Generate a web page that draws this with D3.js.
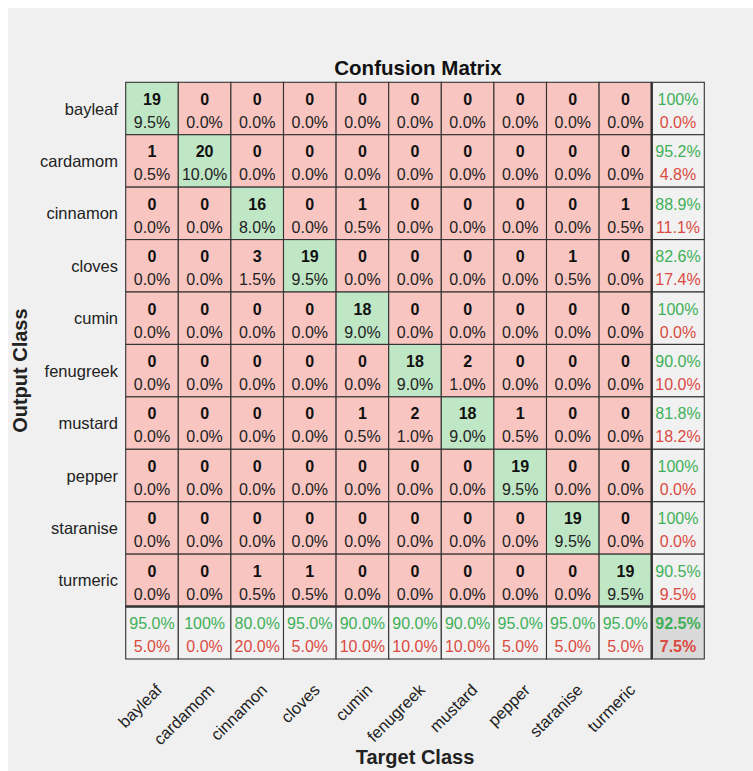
<!DOCTYPE html>
<html>
<head>
<meta charset="utf-8">
<script src="https://cdn.jsdelivr.net/npm/d3@7"></script>
<style>
  html, body { margin: 0; padding: 0; background: #ffffff; }
  svg { display: block; }
  text { font-family: "Liberation Sans", Arial, Helvetica, sans-serif; }
</style>
</head>
<body>
<script>
// Class names (output = rows, target = columns)
const classes = ["bayleaf", "cardamom", "cinnamon", "cloves", "cumin",
                 "fenugreek", "mustard", "pepper", "staranise", "turmeric"];

// Confusion counts: one array per output class, columns follow target class order
const bayleafRow   = [19, 0, 0, 0, 0, 0, 0, 0, 0, 0];
const cardamomRow  = [1, 20, 0, 0, 0, 0, 0, 0, 0, 0];
const cinnamonRow  = [0, 0, 16, 0, 1, 0, 0, 0, 0, 1];
const clovesRow    = [0, 0, 3, 19, 0, 0, 0, 0, 1, 0];
const cuminRow     = [0, 0, 0, 0, 18, 0, 0, 0, 0, 0];
const fenugreekRow = [0, 0, 0, 0, 0, 18, 2, 0, 0, 0];
const mustardRow   = [0, 0, 0, 0, 1, 2, 18, 1, 0, 0];
const pepperRow    = [0, 0, 0, 0, 0, 0, 0, 19, 0, 0];
const staraniseRow = [0, 0, 0, 0, 0, 0, 0, 0, 19, 0];
const turmericRow  = [0, 0, 1, 1, 0, 0, 0, 0, 0, 19];

const counts = [bayleafRow, cardamomRow, cinnamonRow, clovesRow, cuminRow,
                fenugreekRow, mustardRow, pepperRow, staraniseRow, turmericRow];

const W = 753, H = 771;
const n = classes.length;
const total = d3.sum(counts, r => d3.sum(r));

const svg = d3.select("body").append("svg")
  .attr("width", W).attr("height", H);

// figure background
svg.append("rect").attr("x", 8).attr("y", 8)
  .attr("width", W - 8).attr("height", H - 8).attr("fill", "#f0f0f0");

const idx = d3.range(n + 1);
const x = d3.scaleBand().domain(idx).range([125.7, 704.3]).padding(0);
const y = d3.scaleBand().domain(idx).range([82.3, 659]).padding(0);
const bw = x.bandwidth(), bh = y.bandwidth();

const GREEN_BG = "#bfe6c5", RED_BG = "#f8c5c1", GRAY_BG = "#f1f1f1", DARK_BG = "#d9d9d9";
const GREEN_TXT = "#40b058", RED_TXT = "#db4a42";

const fmt = v => (Math.abs(v - 100) < 1e-9 ? "100%" : d3.format(".1f")(v) + "%");

// build cell list
const cells = [];
for (let i = 0; i < n; i++) {
  for (let j = 0; j < n; j++) {
    cells.push({ r: i, c: j, v: counts[i][j], kind: "main" });
  }
}
// row summaries (precision per output class)
for (let i = 0; i < n; i++) {
  const s = d3.sum(counts[i]);
  const p = s ? counts[i][i] / s * 100 : 0;
  cells.push({ r: i, c: n, good: p, bad: 100 - p, kind: "sum" });
}
// column summaries (recall per target class)
for (let j = 0; j < n; j++) {
  const s = d3.sum(counts, r => r[j]);
  const p = s ? counts[j][j] / s * 100 : 0;
  cells.push({ r: n, c: j, good: p, bad: 100 - p, kind: "sum" });
}
// overall accuracy
const correct = d3.sum(d3.range(n), k => counts[k][k]);
cells.push({ r: n, c: n, good: correct / total * 100, bad: 100 - correct / total * 100, kind: "total" });

const g = svg.append("g");

g.selectAll("rect.cell").data(cells).join("rect")
  .attr("class", "cell")
  .attr("x", d => x(d.c)).attr("y", d => y(d.r))
  .attr("width", bw).attr("height", bh)
  .attr("fill", d => d.kind === "main" ? (d.r === d.c ? GREEN_BG : RED_BG)
                    : d.kind === "total" ? DARK_BG : GRAY_BG)
  .attr("stroke", "#333").attr("stroke-width", 1.1);

const tg = g.selectAll("g.ct").data(cells).join("g")
  .attr("class", "ct")
  .attr("transform", d => `translate(${x(d.c) + bw / 2},${y(d.r)})`);

tg.append("text")
  .attr("text-anchor", "middle")
  .attr("y", 22.5)
  .attr("font-size", 16)
  .attr("font-weight", d => d.kind === "main" || d.kind === "total" ? "bold" : "normal")
  .attr("fill", d => d.kind === "main" ? "#111" : GREEN_TXT)
  .text(d => d.kind === "main" ? d.v : fmt(d.good));

tg.append("text")
  .attr("text-anchor", "middle")
  .attr("y", 45.5)
  .attr("font-size", 16)
  .attr("font-weight", d => d.kind === "total" ? "bold" : "normal")
  .attr("fill", d => d.kind === "main" ? "#222" : RED_TXT)
  .text(d => d.kind === "main" ? fmt(d.v / total * 100) : fmt(d.bad));

// thick separators for summary row / column
g.append("line")
  .attr("x1", x(n)).attr("x2", x(n)).attr("y1", y(0)).attr("y2", y(n) + bh)
  .attr("stroke", "#333").attr("stroke-width", 2.5);
g.append("line")
  .attr("x1", x(0)).attr("x2", x(n) + bw).attr("y1", y(n)).attr("y2", y(n))
  .attr("stroke", "#333").attr("stroke-width", 2.5);

// row (output class) labels
svg.selectAll("text.ylab").data(classes).join("text")
  .attr("class", "ylab")
  .attr("text-anchor", "end")
  .attr("transform", (d, i) => `translate(118,${y(i) + bh / 2 + 6})`)
  .attr("font-size", 16.5).attr("fill", "#222")
  .text(d => d);

// column (target class) labels, rotated
svg.selectAll("text.xlab").data(classes).join("text")
  .attr("class", "xlab")
  .attr("text-anchor", "end")
  .attr("transform", (d, i) => `translate(${x(i) + bw / 2 + 11},${y(n) + bh + 32}) rotate(-45)`)
  .attr("font-size", 16.5).attr("fill", "#222")
  .text(d => d);

// titles
svg.append("text")
  .attr("text-anchor", "middle")
  .attr("x", (x(0) + x(n) + bw) / 2 + 3).attr("y", 75)
  .attr("font-size", 20.5).attr("font-weight", "bold").attr("fill", "#111")
  .text("Confusion Matrix");

svg.append("text")
  .attr("text-anchor", "middle")
  .attr("x", (x(0) + x(n) + bw) / 2).attr("y", 764)
  .attr("font-size", 20).attr("font-weight", "bold").attr("fill", "#222")
  .text("Target Class");

svg.append("text")
  .attr("text-anchor", "middle")
  .attr("transform", `translate(27,${(y(0) + y(n) + bh) / 2}) rotate(-90)`)
  .attr("font-size", 20).attr("font-weight", "bold").attr("fill", "#222")
  .text("Output Class");
</script>
</body>
</html>
